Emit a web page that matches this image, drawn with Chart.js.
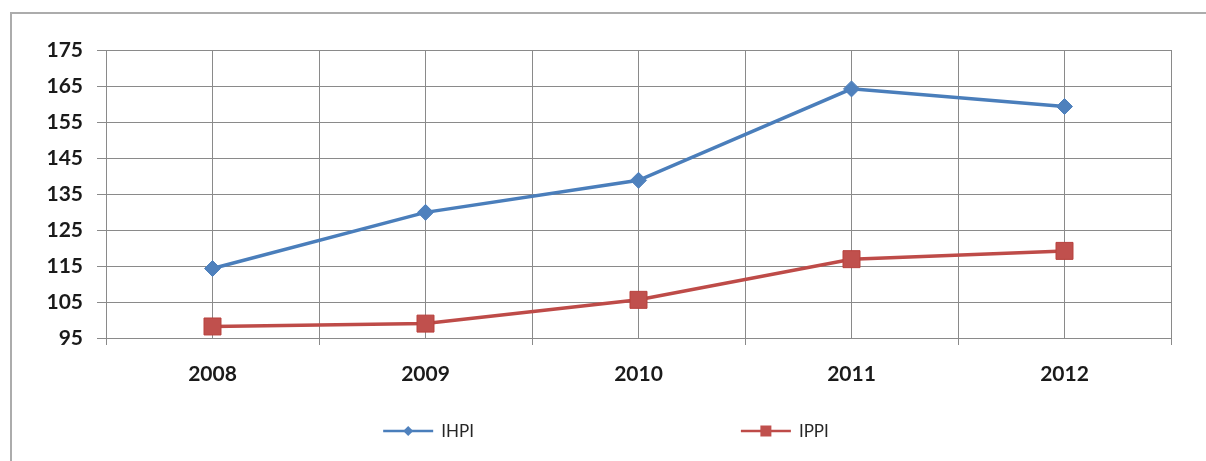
<!DOCTYPE html>
<html>
<head>
<meta charset="utf-8">
<script src="https://cdn.jsdelivr.net/npm/chart.js@4.4.1/dist/chart.umd.min.js"></script>
<style>
  html, body { margin: 0; padding: 0; background: #ffffff; overflow: hidden; }
  #wrap { position: relative; width: 1206px; height: 461px; overflow: hidden; }
  #frame { position: absolute; left: 10px; top: 12px; width: 1300px; height: 600px;
           border: 2px solid #acacac; box-sizing: border-box; }
  #c { position: absolute; left: 0; top: 0; }
</style>
</head>
<body>
<div id="wrap">
  <div id="frame"></div>
  <canvas id="c" width="1206" height="461"></canvas>
</div>
<script>
// ---- data ----
const categories = ['2008', '2009', '2010', '2011', '2012'];
const ihpi = [114.3, 129.9, 138.8, 164.2, 159.3];
const ippi = [98.2, 99.0, 105.6, 116.9, 119.2];
const seriesNames = ['IHPI', 'IPPI'];
const yMin = 95, yMax = 175, yStep = 10;

// ---- styling ----
const gridColor = '#8a8a8a';
const tickFont = { family: 'Lato, "Open Sans", sans-serif', size: 21, weight: 'bold' };

function toPoints(arr) { return arr.map((v, i) => ({ x: i, y: v })); }

// custom legend: line + marker + text, spread out like the original
const wideLegend = {
  id: 'wideLegend',
  afterDraw(chart) {
    const ctx = chart.ctx;
    const ds = chart.data.datasets;
    const lineLen = 50, textGap = 8, itemGap = 267;
    const y = 431;
    ctx.save();
    ctx.font = '17px Lato, "Open Sans", sans-serif';
    ctx.textBaseline = 'middle';
    const widths = ds.map(d => lineLen + textGap + ctx.measureText(d.label).width);
    const total = widths.reduce((a, b) => a + b, 0) + itemGap * (ds.length - 1);
    let x = chart.width / 2 - total / 2 + 3;
    ds.forEach((d, i) => {
      ctx.strokeStyle = d.borderColor;
      ctx.lineWidth = 2.5;
      ctx.beginPath();
      ctx.moveTo(x, y);
      ctx.lineTo(x + lineLen, y);
      ctx.stroke();
      const cx = x + lineLen / 2;
      ctx.fillStyle = d.pointBackgroundColor;
      ctx.beginPath();
      if (d.pointStyle === 'rectRot') {
        const r = 5;
        ctx.moveTo(cx, y - r); ctx.lineTo(cx + r, y); ctx.lineTo(cx, y + r); ctx.lineTo(cx - r, y);
        ctx.closePath();
      } else {
        ctx.rect(cx - 5.5, y - 5.5, 11, 11);
      }
      ctx.fill();
      ctx.fillStyle = '#262626';
      ctx.textAlign = 'left';
      ctx.fillText(d.label, x + lineLen + textGap, y + 1);
      x += widths[i] + itemGap;
    });
    ctx.restore();
  }
};

new Chart(document.getElementById('c'), {
  type: 'line',
  data: {
    datasets: [
      {
        label: seriesNames[0],
        data: toPoints(ihpi),
        borderColor: '#4A7EBB',
        backgroundColor: '#4F81BD',
        pointBackgroundColor: '#4F81BD',
        pointBorderColor: '#4F81BD',
        pointStyle: 'rectRot',
        pointRadius: 8,
        pointBorderWidth: 1,
        borderWidth: 3.5,
        tension: 0
      },
      {
        label: seriesNames[1],
        data: toPoints(ippi),
        borderColor: '#BE4B48',
        backgroundColor: '#C0504D',
        pointBackgroundColor: '#C0504D',
        pointBorderColor: '#B8403D',
        pointStyle: 'rect',
        pointRadius: 12,
        pointBorderWidth: 1,
        borderWidth: 3.5,
        tension: 0
      }
    ]
  },
  options: {
    responsive: false,
    animation: false,
    events: [],
    layout: { padding: { left: 0, right: 35, top: 50, bottom: 0 } },
    plugins: { legend: { display: false }, tooltip: { enabled: false } },
    scales: {
      x: {
        type: 'linear',
        min: -0.5,
        max: categories.length - 0.5,
        afterFit(scale) { scale.height = 123; },
        ticks: {
          stepSize: 0.5,
          autoSkip: false,
          maxTicksLimit: 50,
          maxRotation: 0,
          padding: 17,
          color: '#1a1a1a',
          font: tickFont,
          callback(v) { return Number.isInteger(v) ? categories[v] : ''; }
        },
        grid: {
          color: gridColor,
          lineWidth: 1,
          tickLength: 7,
          tickColor(ctx) { return (ctx.tick && Number.isInteger(ctx.tick.value)) ? 'rgba(0,0,0,0)' : gridColor; }
        },
        border: { color: gridColor, width: 1 }
      },
      y: {
        min: yMin,
        max: yMax,
        afterFit(scale) { scale.width = 106; },
        ticks: {
          stepSize: yStep,
          padding: 14,
          color: '#1a1a1a',
          font: tickFont
        },
        grid: { color: gridColor, lineWidth: 1, tickLength: 9, tickColor: gridColor },
        border: { color: gridColor, width: 1 }
      }
    }
  },
  plugins: [wideLegend]
});
</script>
</body>
</html>
